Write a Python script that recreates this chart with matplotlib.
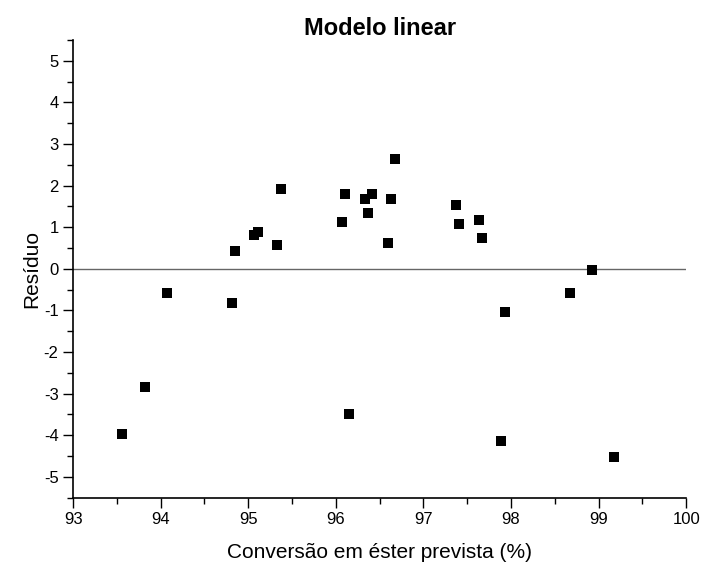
import matplotlib
matplotlib.use('Agg')
import matplotlib.pyplot as plt
from matplotlib.ticker import MultipleLocator

plt.rcParams['font.family'] = ['Liberation Sans', 'DejaVu Sans']
plt.rcParams['axes.unicode_minus'] = False

# Resíduos do modelo linear
conversao_prevista = [93.56, 93.82, 94.07, 94.81, 94.85, 95.07, 95.11, 95.33, 95.37,
                      96.07, 96.11, 96.15, 96.33, 96.37, 96.41, 96.59, 96.63, 96.67,
                      97.37, 97.41, 97.63, 97.67, 97.89, 97.93, 98.67, 98.92, 99.18]
residuo = [-3.98, -2.83, -0.58, -0.83, 0.44, 0.82, 0.89, 0.57, 1.93,
           1.12, 1.80, -3.48, 1.67, 1.33, 1.80, 0.61, 1.67, 2.63,
           1.53, 1.08, 1.17, 0.73, -4.13, -1.04, -0.58, -0.04, -4.53]

fig = plt.figure(figsize=(7.03, 5.63), dpi=100)
ax = fig.add_axes([0.104, 0.116, 0.872, 0.813])

ax.axhline(0, color='0.4', lw=1, zorder=1)
ax.scatter(conversao_prevista, residuo, marker='s', s=45, color='black',
           linewidths=0, zorder=3)

ax.set_xlim(93, 100)
ax.set_ylim(-5.5, 5.5)
ax.xaxis.set_major_locator(MultipleLocator(1))
ax.xaxis.set_minor_locator(MultipleLocator(0.5))
ax.yaxis.set_major_locator(MultipleLocator(1))
ax.yaxis.set_minor_locator(MultipleLocator(0.5))
ax.tick_params(which='major', direction='out', length=7, width=1, labelsize=12)
ax.tick_params(which='minor', direction='out', length=4, width=1)

for side in ['top', 'right']:
    ax.spines[side].set_visible(False)
for side in ['left', 'bottom']:
    ax.spines[side].set_linewidth(1.2)

ax.set_title('Modelo linear', fontsize=17, fontweight='bold', pad=2)
ax.set_xlabel('Conversão em éster prevista (%)', fontsize=15, labelpad=11)
ax.set_ylabel('Resíduo', fontsize=15, labelpad=2)

fig.savefig('out.png', dpi=100)
